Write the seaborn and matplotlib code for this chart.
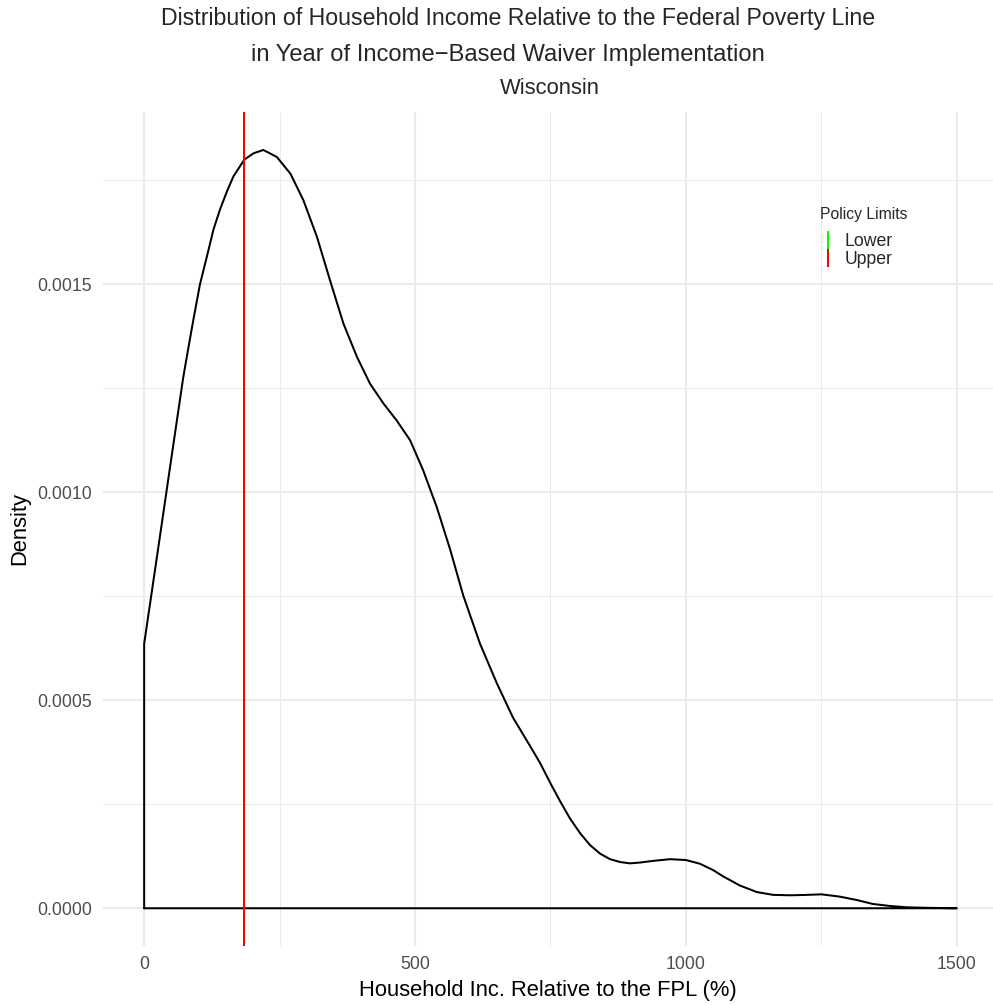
import matplotlib
matplotlib.use("Agg")
import matplotlib.pyplot as plt
from matplotlib.lines import Line2D
import seaborn as sns
import pandas as pd

# ---------------- data ----------------
income_fpl = [0, 15, 30, 45, 60, 72, 79, 91, 103, 116,
              128, 140, 153, 165, 185, 202, 220, 245, 270, 294,
              319, 343, 368, 393, 417, 442, 466, 491, 515, 540,
              565, 589, 620, 651, 681, 712, 731, 751, 768, 786,
              805, 823, 842, 860, 879, 897, 916, 940, 971, 1000,
              1026, 1050, 1069, 1100, 1131, 1161, 1192, 1220, 1250, 1284,
              1315, 1345, 1376, 1407, 1440, 1469, 1500]
density = [0.000636, 0.000769, 0.000902, 0.001036, 0.001169, 0.001275, 0.001328, 0.001416, 0.0015, 0.001568,
           0.001632, 0.00168, 0.001724, 0.00176, 0.0018, 0.001815, 0.001823, 0.001806, 0.001766, 0.001702,
           0.001614, 0.00151, 0.001405, 0.001325, 0.001261, 0.001213, 0.001173, 0.001125, 0.001053, 0.000965,
           0.000862, 0.000752, 0.000636, 0.000541, 0.000458, 0.000391, 0.000349, 0.000298, 0.000257, 0.000216,
           0.00018, 0.000152, 0.000131, 0.000118, 0.000111, 0.000108, 0.00011, 0.000114, 0.000118, 0.000116,
           0.000107, 0.000092, 0.0000765, 0.0000545, 0.000039, 0.0000322, 0.0000312, 0.000032, 0.0000335, 0.000028,
           0.00002, 0.0000104, 0.0000056, 0.0000024, 0.0000012, 0.0000006, 0.0]

policy_labels = ["Lower", "Upper"]
policy_colors = ["#00FF00", "#FF0000"]
upper_limit = 185

x_ticks = [0, 500, 1000, 1500]
y_ticks = [0.0, 0.0005, 0.0010, 0.0015]
y_tick_labels = ["0.0000", "0.0005", "0.0010", "0.0015"]

title_line1 = "Distribution of Household Income Relative to the Federal Poverty Line"
title_line2 = "in Year of Income\u2212Based Waiver Implementation"
subtitle = "Wisconsin"
legend_title = "Policy Limits"
x_label = "Household Inc. Relative to the FPL (%)"
y_label = "Density"

# ---------------- style ----------------
sns.set_theme(style="white")
plt.rcParams["font.family"] = ["Liberation Sans", "DejaVu Sans"]

W, H = 993, 1005
fig = plt.figure(figsize=(W / 100, H / 100), dpi=100)
fig.patch.set_facecolor("white")

left_px, right_px, top_px, bottom_px = 103, 993, 111.7, 946.2
ax = fig.add_axes([left_px / W, 1 - bottom_px / H,
                   (right_px - left_px) / W, (bottom_px - top_px) / H])
ax.set_facecolor("white")

# closed density outline (as ggplot draws geom_density)
outline = pd.DataFrame({
    "x": [0] + income_fpl + [0],
    "y": [0.0] + density + [0.0],
})
sns.lineplot(data=outline, x="x", y="y", sort=False, estimator=None,
             color="black", linewidth=1.45, ax=ax, zorder=3,
             solid_joinstyle="round")

ax.axvline(upper_limit, color=policy_colors[1], linewidth=1.45, zorder=4)

ax.set_xlim(-76, 1567)
ax.set_ylim(-0.0000912, 0.001915)

# grid
ax.set_xticks(x_ticks)
ax.set_xticklabels([str(v) for v in x_ticks])
ax.set_yticks(y_ticks)
ax.set_yticklabels(y_tick_labels)
ax.set_xticks([250, 750, 1250], minor=True)
ax.set_yticks([0.00025, 0.00075, 0.00125, 0.00175], minor=True)
ax.grid(which="major", color="#EBEBEB", linewidth=1.45, zorder=0)
ax.grid(which="minor", color="#EBEBEB", linewidth=0.72, zorder=0)
ax.set_axisbelow(True)
for s in ax.spines.values():
    s.set_visible(False)
ax.tick_params(which="both", length=0)
ax.tick_params(axis="y", pad=8, labelsize=12.67, labelcolor="#4D4D4D")
ax.tick_params(axis="x", pad=7, labelsize=12.67, labelcolor="#4D4D4D")

ax.set_xlabel(x_label, fontsize=15.84, color="black")
ax.set_ylabel(y_label, fontsize=15.84, color="black")
ax.xaxis.set_label_coords(0.5, (bottom_px - 990) / (bottom_px - top_px))
ax.xaxis.label.set_va("center")
ax.yaxis.set_label_coords((20 - left_px) / (right_px - left_px), 0.5)
ax.yaxis.label.set_va("center")

# titles
fig.text(518 / W, 1 - 19 / H, title_line1, ha="center", va="center", fontsize=16.7)
fig.text(508 / W, 1 - 55 / H, title_line2, ha="center", va="center", fontsize=17.1)
fig.text(550 / W, 1 - 89 / H, subtitle, ha="center", va="center", fontsize=15.84)

# legend
fig.text(820 / W, 1 - 215 / H, legend_title, ha="left", va="center", fontsize=11.3)
handles = [Line2D([], [], color=c, marker="|", linestyle="None",
                  markersize=13.2, markeredgewidth=1.45) for c in policy_colors]
leg = ax.legend(handles, policy_labels,
                loc="upper left", bbox_to_anchor=(822.7 / W, 1 - 232.7 / H),
                bbox_transform=fig.transFigure, frameon=False,
                fontsize=12.67, labelspacing=0.08,
                handlelength=0.6, handletextpad=0.66, borderpad=0.0,
                borderaxespad=0.0)

fig.savefig("out.png", dpi=100, facecolor="white")
